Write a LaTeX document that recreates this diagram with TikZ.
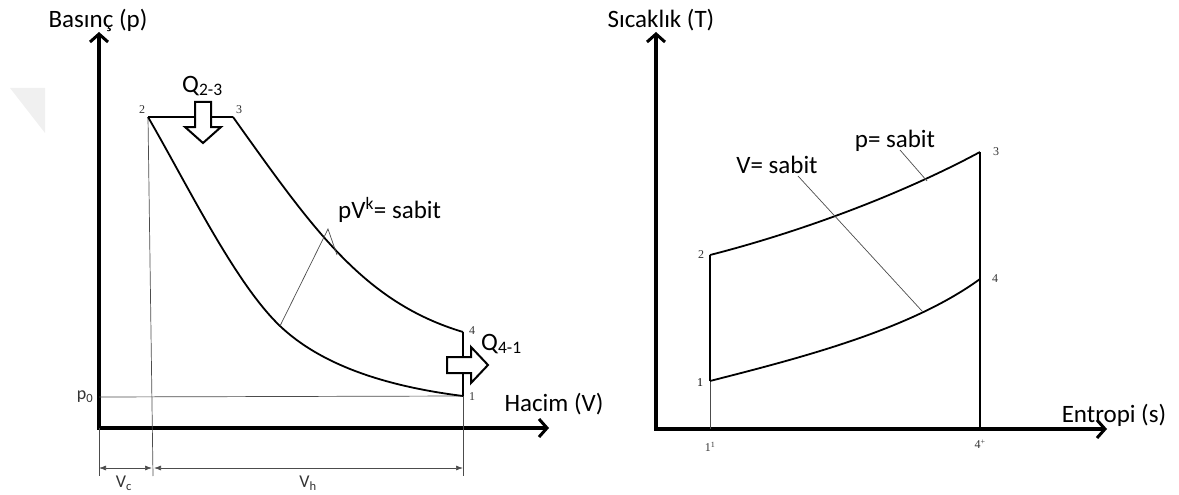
\documentclass[tikz,border=0pt]{standalone}
\usepackage{fontspec}
\setmainfont{Carlito}
\newfontfamily\numfont{Liberation Serif}
\usetikzlibrary{arrows.meta,positioning}

\begin{document}
\begin{tikzpicture}[x=1pt, y=-1pt,
  axis/.style={line width=3.5pt, line join=miter,
    {Straight Barb[length=8pt,width=18pt,line width=3pt]}-{Straight Barb[length=8pt,width=18pt,line width=3pt]}},
  cyc/.style={line width=1.8pt},
  thin/.style={line width=0.7pt, black!70},
  dim/.style={line width=0.7pt, black!70, {Latex[length=7pt,width=5pt]}-{Latex[length=7pt,width=5pt]}},
  lbl/.style={font=\fontsize{25}{27}\selectfont, inner sep=0pt},
  small/.style={font=\fontsize{18}{20}\selectfont, inner sep=0pt, black!80},
  num/.style={font=\numfont\fontsize{12}{13}\selectfont, inner sep=0pt, black!80},
  qarr/.style={line width=2pt, fill=white, line join=miter}]
\useasboundingbox (0,0) rectangle (1179,495);
\fill[black!6] (10,88) -- (45,88) -- (45,133) -- cycle;

% p-V diagram
\coordinate (py) at (99,32);
\coordinate (o1) at (99,428);
\coordinate (px) at (549,428);
\coordinate (p2) at (148,117);
\coordinate (p3) at (233,117);
\coordinate (p4) at (463,332);
\coordinate (p1) at (463,396);
\coordinate (p0) at (99,397);
\coordinate (vc) at (153,476);
\coordinate (vh) at (463,476);
\coordinate (vo) at (99,476);
\draw[axis] (py) -- (o1) -- (px);
\draw[thin] (p0) -- (p1);
\draw[thin] (p2) -- (vc);
\draw[thin] (p1) -- (vh);
\draw[thin] (o1) -- (vo);
\coordinate (k1) at (280,326);
\coordinate (k2) at (328,229);
\coordinate (k3) at (337,255);
\draw[cyc] (p2) -- (p3);
\draw[cyc] (p3) .. controls (313,229) and (363,302) .. (p4);
\draw[cyc] (p2) .. controls (188,186) and (235,283) .. (k1)
  .. controls (320,364) and (383,386) .. (p1);
\draw[cyc] (p4) -- (p1);
\draw[thin] (k1) -- (k2) -- (k3);
\coordinate (dc1) at (99,468);
\coordinate (dc2) at (152,468);
\coordinate (dh1) at (154,468);
\coordinate (dh2) at (463,468);
\draw[dim] (dc1) -- (dc2);
\draw[dim] (dh1) -- (dh2);
\draw[qarr] (195,102) -- (211,102) -- (211,127) -- (221,127) -- (203,143) -- (185,127) -- (195,127) -- cycle;
\draw[qarr] (447,357) -- (471,357) -- (471,347) -- (488,365) -- (471,383) -- (471,373) -- (447,373) -- cycle;
\node[lbl] (basinc) at (98,20) {Basınç (p)};
\node[lbl] (hacim) at (554,404) {Hacim (V)};
\node[lbl, anchor=west] (q23) at (182,86) {Q\textsubscript{2-3}};
\node[lbl, anchor=west] (q41) at (481,344) {Q\textsubscript{4-1}};
\node[lbl, anchor=west] (pvk) at (338,210) {pV\textsuperscript{k}= sabit};
\node[small] (p0lbl) at (85,397) {p\textsubscript{0}};
\node[small] (vclbl) at (124,483) {V\textsubscript{c}};
\node[small] (vhlbl) at (308,483) {V\textsubscript{h}};
\node[num] (n2) at (142,110) {2};
\node[num] (n3) at (239,110) {3};
\node[num] (n4) at (472,331) {4};
\node[num] (n1) at (472,397) {1};

% T-s diagram
\coordinate (ty) at (656,32);
\coordinate (o2) at (656,429);
\coordinate (sx) at (1107,429);
\coordinate (r1) at (710,381);
\coordinate (r2) at (710,255);
\coordinate (r3) at (980,152);
\coordinate (r4) at (980,279);
\coordinate (r1b) at (710,429);
\coordinate (r4b) at (980,429);
\draw[axis] (ty) -- (o2) -- (sx);
\draw[thin] (r1) -- (r1b);
\draw[cyc] (r1) -- (r2);
\draw[cyc] (r2) .. controls (800,232) and (900,195) .. (r3);
\draw[cyc] (r1) .. controls (800,358) and (910,330) .. (r4);
\draw[cyc] (r3) -- (r4b);
\coordinate (ps1) at (900,150);
\coordinate (ps2) at (927,181);
\coordinate (vs1) at (798,176);
\coordinate (vs2) at (922,311);
\draw[thin] (ps1) -- (ps2);
\draw[thin] (vs1) -- (vs2);
\node[lbl] (sicak) at (661,20) {Sıcaklık (T)};
\node[lbl] (entropi) at (1114,415) {Entropi (s)};
\node[lbl] (vsabit) at (777,165) {V= sabit};
\node[lbl] (psabit) at (895,141) {p= sabit};
\node[num] (m2) at (701,255) {2};
\node[num, black] (m1) at (700,383) {1};
\node[num] (m3) at (996,152) {3};
\node[num] (m4) at (995,279) {4};
\node[num] (m1b) at (710,447) {1\textsuperscript{1}};
\node[num] (m4b) at (980,444) {4\textsuperscript{+}};
\end{tikzpicture}
\end{document}
